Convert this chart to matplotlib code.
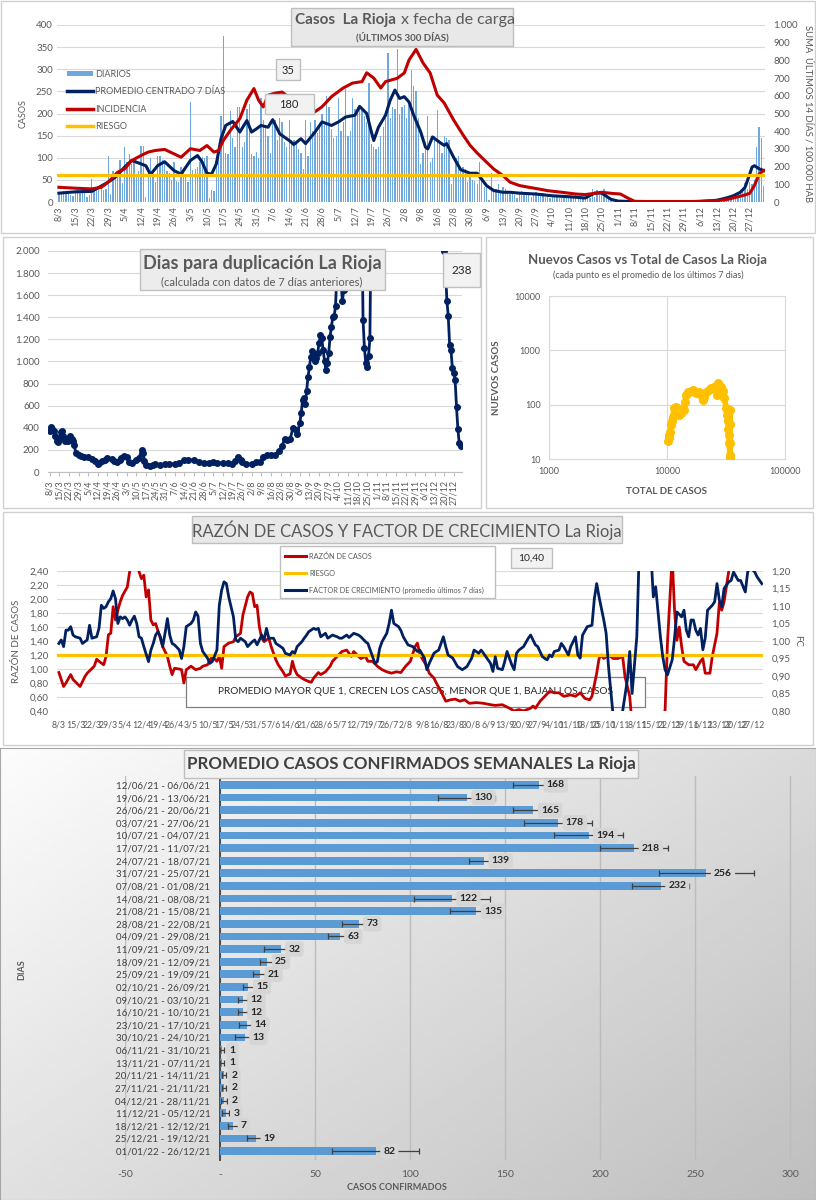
import numpy as np
import matplotlib
matplotlib.use('Agg')
import matplotlib.pyplot as plt
from matplotlib.patches import Rectangle
from matplotlib.lines import Line2D

plt.rcParams['font.family'] = ['Lato', 'DejaVu Sans']

# ------------------------------------------------------------------ DATA
fecha_labels = ['8/3', '15/3', '22/3', '29/3', '5/4', '12/4', '19/4', '26/4', '3/5', '10/5',
                '17/5', '24/5', '31/5', '7/6', '14/6', '21/6', '28/6', '5/7', '12/7', '19/7',
                '26/7', '2/8', '9/8', '16/8', '23/8', '30/8', '6/9', '13/9', '20/9', '27/9',
                '4/10', '11/10', '18/10', '25/10', '1/11', '8/11', '15/11', '22/11', '29/11',
                '6/12', '13/12', '20/12', '27/12']
fecha_dias = [7 * i for i in range(len(fecha_labels))]   # days since 8/3

# daily cases, 8/3 .. 2/1 (one row per week)
diarios = [
    18, 22, 25, 20, 24, 15, 14,
    24, 30, 22, 28, 26, 12, 15,
    51, 25, 30, 32, 38, 28, 30,
    105, 18, 70, 68, 62, 95, 42,
    125, 90, 108, 85, 95, 60, 70,
    127, 127, 12, 80, 100, 62, 46,
    105, 105, 95, 88, 70, 65, 50,
    90, 48, 45, 80, 65, 60, 45,
    226, 72, 75, 78, 90, 102, 100,
    105, 10, 28, 25, 90, 100, 195,
    375, 110, 108, 205, 145, 125, 215,
    215, 125, 135, 210, 222, 108, 105,
    113, 100, 235, 185, 175, 150, 110,
    190, 185, 140, 190, 180, 135, 125,
    185, 140, 140, 130, 120, 110, 75,
    185, 105, 180, 160, 185, 155, 170,
    200, 175, 240, 215, 165, 145, 150,
    235, 160, 180, 255, 150, 160, 235,
    210, 215, 220, 210, 195, 180, 268,
    130, 125, 120, 125, 150, 170, 190,
    337, 190, 215, 210, 346, 200, 215,
    220, 190, 220, 298, 262, 250, 190,
    85, 110, 120, 195, 90, 100, 150,
    207, 140, 110, 150, 145, 140, 40,
    60, 100, 105, 70, 80, 75, 45,
    65, 50, 48, 40, 90, 55, 35,
    35, 5, 65, 25, 30, 40, 20,
    35, 30, 20, 18, 25, 15, 10,
    20, 25, 15, 22, 18, 12, 15,
    22, 18, 15, 20, 12, 18, 10,
    15, 12, 14, 10, 12, 8, 10,
    12, 8, 10, 15, 9, 7, 8,
    12, 8, 10, 30, 12, 28, 15,
    25, 30, 20, 8, 5, 3, 2,
    2, 1, 2, 1, 0, 1, 0,
    1, 0, 2, 1, 0, 0, 1,
    2, 1, 0, 3, 2, 0, 1,
    2, 1, 3, 2, 1, 0, 2,
    2, 3, 1, 2, 4, 2, 3,
    1, 2, 1, 3, 2, 4, 3,
    5, 6, 4, 8, 10, 9, 12,
    12, 15, 18, 25, 22, 43, 30,
    45, 40, 50, 124, 169, 144, 36,
]

# 7-day centred average (day, cases)
promedio7 = [(0, 20), (7, 23), (14, 24), (21, 45), (24, 56), (28, 79), (31, 94), (35, 86), (37, 82),
             (39, 62), (42, 82), (45, 91), (49, 71), (52, 63), (56, 94), (59, 105), (61, 90), (63, 65),
             (65, 63), (67, 86), (69, 143), (71, 173), (74, 182), (77, 158), (80, 184), (82, 158),
             (84, 165), (86, 173), (89, 169), (91, 186), (94, 154), (98, 139), (100, 130), (103, 143),
             (105, 132), (109, 158), (112, 181), (116, 173), (119, 181), (122, 192), (126, 196),
             (128, 216), (131, 200), (133, 158), (134, 139), (136, 169), (139, 196), (141, 230),
             (143, 253), (145, 234), (147, 238), (149, 226), (151, 196), (154, 158), (156, 124),
             (157, 120), (159, 147), (162, 135), (164, 128), (165, 132), (168, 101), (171, 73),
             (175, 65), (178, 65), (182, 37), (185, 26), (189, 22), (192, 22), (196, 20), (203, 18),
             (210, 14), (217, 12), (224, 9), (228, 20), (231, 20), (235, 6), (238, 2), (245, 1),
             (252, 1), (259, 1), (266, 1), (273, 1), (280, 4), (284, 9), (287, 14), (290, 22),
             (292, 33), (294, 63), (295, 79), (296, 82), (298, 75), (300, 71)]

# 14-day incidence per 100.000 (day, value)
incidencia = [(0, 83), (7, 78), (14, 74), (18, 83), (21, 112), (25, 168), (28, 187), (31, 234),
              (35, 263), (38, 282), (41, 291), (45, 297), (49, 272), (52, 253), (56, 301), (60, 291),
              (63, 319), (66, 282), (68, 291), (70, 348), (73, 405), (77, 471), (80, 575), (83, 641),
              (85, 575), (87, 537), (89, 603), (92, 615), (95, 621), (100, 570), (105, 520), (109, 510),
              (112, 538), (116, 595), (121, 644), (125, 672), (129, 680), (131, 730), (134, 700),
              (137, 644), (139, 680), (144, 699), (147, 729), (149, 802), (152, 862), (155, 785),
              (158, 729), (161, 604), (164, 559), (168, 463), (172, 379), (175, 320), (178, 277),
              (182, 225), (185, 187), (189, 149), (192, 112), (196, 93), (200, 83), (204, 74), (208, 64),
              (214, 55), (220, 45), (224, 42), (228, 49), (231, 55), (235, 49), (239, 45), (242, 23),
              (245, 4), (250, 3), (260, 3), (270, 3), (280, 8), (284, 13), (287, 23), (291, 36),
              (294, 49), (296, 93), (298, 159), (300, 178)]
riesgo_incidencia = 150

# days to double (day, days)
nan = float('nan')
duplicacion = [(0, 373), (1, 403), (2, 390), (3, 367), (4, 322), (5, 277), (6, 270), (7, 300), (8, 361),
               (9, 367), (10, 322), (11, 283), (13, 283), (14, 307), (15, 322), (16, 300), (17, 277),
               (18, 241), (19, 171), (21, 156), (23, 141), (25, 135), (28, 132), (31, 120), (33, 96),
               (35, 72), (36, 84), (38, 96), (40, 112), (42, 126), (45, 120), (47, 100), (49, 90),
               (51, 112), (52, 126), (54, 141), (56, 132), (58, 90), (60, 81), (63, 111), (65, 126),
               (67, 201), (68, 171), (69, 96), (70, 60), (73, 51), (75, 60), (77, 72), (80, 60), (84, 72),
               (87, 75), (91, 72), (94, 81), (98, 105), (101, 108), (105, 111), (109, 87), (112, 81),
               (116, 85), (119, 87), (122, 84), (126, 81), (130, 78), (133, 72), (135, 100), (137, 132),
               (139, 110), (140, 87), (143, 72), (147, 72), (150, 90), (153, 87), (155, 132), (158, 150),
               (161, 150), (164, 156), (167, 186), (169, 232), (171, 300), (173, 292), (175, 300),
               (177, 397), (179, 382), (180, 343), (182, 442), (183, 532), (184, 653), (185, 674),
               (186, 614), (187, 734), (188, 863), (189, 950), (190, 1044), (191, 1095), (192, 1060),
               (193, 1005), (194, 1029), (195, 1080), (196, 1164), (197, 1239), (198, 1209), (199, 1100),
               (200, 1005), (201, 923), (202, 983), (203, 1074), (204, 1224), (205, 1314), (206, 1404),
               (207, 1410), (208, 1504), (209, 1800), (210, 2300), (211, 2100), (212, 1700), (213, 1550),
               (214, 1650), (215, 2400), (216, nan), (227, 2500), (228, 1380), (229, 1120), (230, 990),
               (231, 950), (232, 1050), (233, 1210), (234, 2500), (235, nan), (286, 2600), (287, 2000),
               (288, 1830), (289, 1550), (290, 1410), (291, 1150), (292, 1100), (293, 940), (294, 900),
               (295, 830), (296, 590), (297, 390), (298, 260), (299, 238)]

# new cases (7-day mean) vs total cases
total_casos = [10130, 10300, 10460, 10600, 10810, 11000, 11170, 11540, 11920, 12300, 12720, 13100,
               13580, 14000, 14200, 14500, 15000, 15480, 16000, 16500, 17000, 17620, 18200, 18800,
               19400, 20070, 20700, 21400, 22500, 23600, 24400, 25200, 25800, 26400, 26900, 27800,
               28700, 29700, 30700, 31700, 32300, 32800, 33200, 33500, 33800, 34000, 34100, 34200,
               34300, 34400]
nuevos_casos = [21, 24, 28, 32, 42, 50, 60, 86, 92, 75, 64, 70,
                86, 80, 110, 150, 170, 173, 180, 186, 175, 161, 165, 173,
                150, 122, 140, 173, 185, 200, 205, 214, 200, 150, 247, 235,
                214, 180, 131, 86, 65, 49, 35, 28, 20, 12, 10.3, 20,
                45, 80]

# ratio of cases (day, value, left axis)
razon = [(0, 0.95), (2, 0.75), (3, 0.80), (5, 0.92), (6, 0.85), (9, 0.75), (11, 0.89), (12, 0.94),
         (15, 1.04), (16, 1.14), (17, 1.11), (19, 1.06), (20, 1.18), (21, 1.49), (22, 1.51), (23, 1.89),
         (24, 1.70), (25, 1.84), (26, 1.96), (27, 2.05), (29, 2.17), (30, 2.39), (31, 2.70), (32, 2.90),
         (33, 2.70), (34, 2.39), (35, 2.29), (36, 2.34), (37, 2.03), (38, 2.13), (39, 1.70), (40, 1.63),
         (41, 1.65), (43, 1.44), (44, 1.32), (46, 1.18), (47, 1.04), (48, 0.92), (49, 1.01), (51, 1.00),
         (52, 0.99), (53, 0.80), (54, 0.99), (56, 1.04), (58, 0.99), (60, 1.01), (61, 1.04), (63, 1.06),
         (65, 1.18), (67, 1.11), (68, 1.18), (69, 1.01), (70, 1.32), (72, 1.37), (74, 1.39), (75, 1.46),
         (77, 1.51), (78, 1.77), (80, 2.03), (81, 2.10), (82, 2.08), (83, 1.89), (84, 1.91), (85, 1.60),
         (86, 1.44), (87, 1.39), (89, 1.44), (90, 1.32), (92, 1.13), (93, 1.06), (95, 0.96), (96, 0.90),
         (98, 0.93), (99, 1.11), (100, 0.99), (101, 0.92), (103, 0.87), (104, 0.85), (106, 0.82),
         (107, 0.81), (108, 0.87), (110, 0.95), (111, 0.92), (113, 0.96), (115, 1.04), (116, 1.11),
         (118, 1.18), (120, 1.25), (122, 1.27), (124, 1.18), (125, 1.25), (127, 1.18), (128, 1.15),
         (130, 1.18), (131, 1.11), (133, 1.11), (135, 1.04), (137, 0.99), (139, 0.96), (141, 0.94),
         (143, 0.96), (145, 0.95), (147, 1.04), (149, 1.11), (151, 1.32), (152, 1.37), (153, 1.22),
         (154, 1.15), (156, 1.04), (157, 0.94), (159, 0.87), (160, 0.80), (162, 0.68), (164, 0.54),
         (166, 0.56), (168, 0.57), (170, 0.54), (172, 0.56), (174, 0.51), (177, 0.52), (180, 0.51),
         (183, 0.49), (185, 0.48), (188, 0.49), (191, 0.44), (193, 0.40), (195, 0.42), (197, 0.40),
         (200, 0.44), (201, 0.47), (202, 0.44), (204, 0.54), (206, 0.61), (208, 0.68), (210, 0.66),
         (212, 0.66), (214, 0.61), (217, 0.63), (219, 0.61), (221, 0.66), (223, 0.58), (225, 0.56),
         (226, 0.61), (228, 0.94), (229, 1.15), (230, 1.20), (231, 1.15), (233, 1.20), (235, 1.15),
         (237, 1.15), (239, 1.18), (240, 0.89), (242, 0.61), (243, 0.20), (250, 0.20), (256, 0.20),
         (257, 0.42), (258, 1.37), (260, 2.60), (261, 1.84), (262, 1.41), (263, 1.60), (264, 1.32),
         (265, 1.11), (267, 1.06), (269, 1.06), (270, 0.99), (272, 1.11), (273, 1.15), (274, 0.94),
         (276, 0.94), (277, 1.18), (279, 1.51), (280, 1.95), (281, 1.84), (282, 1.96), (284, 2.40),
         (285, 2.60), (300, 2.60)]
riesgo_razon = 1.20

# growth factor, 7-day mean (day, value, right axis)
factor = [(0, 0.993), (1, 1.003), (2, 0.984), (3, 1.031), (4, 1.031), (5, 1.041), (6, 1.017), (7, 1.012),
          (9, 1.008), (10, 0.993), (11, 0.998), (12, 1.003), (13, 1.045), (14, 1.008), (16, 1.012),
          (17, 1.036), (18, 1.102), (19, 1.093), (20, 1.098), (21, 1.112), (22, 1.121), (23, 1.143),
          (24, 1.121), (25, 1.050), (26, 1.069), (27, 1.064), (28, 1.069), (29, 1.060), (30, 1.045),
          (31, 1.060), (32, 1.071), (33, 1.050), (34, 1.012), (35, 1.008), (36, 0.984), (38, 0.941),
          (39, 0.974), (40, 0.993), (41, 1.017), (42, 1.027), (43, 1.012), (44, 0.984), (45, 1.022),
          (46, 1.064), (47, 1.017), (48, 0.993), (49, 0.989), (51, 0.975), (52, 0.950), (53, 0.984),
          (54, 1.041), (56, 1.050), (57, 1.060), (58, 1.083), (59, 1.071), (60, 0.993), (61, 0.970),
          (63, 0.951), (64, 0.936), (65, 0.941), (67, 0.974), (68, 1.102), (69, 1.145), (70, 1.169),
          (71, 1.164), (72, 1.126), (74, 1.069), (75, 1.003), (76, 0.998), (77, 1.008), (79, 0.998),
          (80, 0.984), (82, 0.998), (83, 1.003), (84, 0.989), (85, 1.003), (86, 1.017), (87, 1.003),
          (88, 1.036), (89, 1.008), (91, 1.008), (92, 0.993), (94, 0.984), (95, 0.979), (96, 0.965),
          (98, 0.960), (99, 0.970), (100, 0.965), (101, 0.984), (103, 0.998), (104, 1.008), (105, 1.017),
          (106, 1.027), (108, 1.036), (109, 1.033), (110, 1.036), (111, 1.012), (113, 1.022), (114, 1.008),
          (116, 1.017), (118, 1.012), (119, 1.008), (120, 1.008), (122, 1.017), (123, 1.010), (125, 1.022),
          (127, 1.017), (128, 1.012), (130, 0.998), (131, 0.993), (132, 0.974), (134, 0.936), (135, 0.941),
          (136, 0.979), (137, 0.998), (139, 1.022), (140, 1.050), (141, 1.088), (142, 1.050), (144, 1.041),
          (145, 1.030), (146, 1.012), (148, 0.989), (150, 0.984), (152, 0.970), (153, 0.974), (155, 0.951),
          (156, 0.918), (157, 0.936), (159, 0.965), (160, 0.970), (161, 0.974), (163, 1.012), (164, 0.984),
          (165, 0.960), (167, 0.951), (169, 0.927), (171, 0.918), (173, 0.927), (175, 0.951), (176, 0.974),
          (178, 0.965), (179, 0.974), (180, 0.965), (183, 0.936), (184, 0.913), (185, 0.955), (186, 0.922),
          (188, 0.918), (189, 0.941), (190, 0.970), (192, 0.932), (193, 0.918), (194, 0.965), (195, 0.974),
          (197, 0.984), (199, 1.008), (200, 1.017), (202, 0.989), (203, 0.984), (205, 0.955), (207, 0.946),
          (208, 0.960), (209, 0.955), (210, 0.970), (212, 0.974), (213, 0.993), (214, 0.984), (216, 0.960),
          (217, 0.984), (219, 1.012), (220, 0.960), (221, 0.951), (222, 1.017), (224, 1.041), (226, 1.045),
          (227, 1.121), (228, 1.164), (229, 1.126), (231, 1.060), (232, 1.022), (233, 0.927), (235, 0.785),
          (236, 0.70), (238, 0.70), (239, 0.80), (241, 0.889), (242, 0.970), (243, 0.850), (245, 1.012),
          (246, 1.25), (250, 1.30), (251, 1.25), (252, 1.126), (253, 1.155), (255, 1.012), (256, 0.955),
          (257, 0.918), (258, 0.903), (260, 0.946), (261, 1.008), (262, 1.083), (264, 1.069), (265, 1.088),
          (266, 1.031), (267, 1.012), (268, 1.060), (269, 1.060), (270, 1.031), (271, 1.017), (272, 1.036),
          (273, 0.975), (274, 1.008), (275, 1.088), (277, 1.102), (278, 1.112), (279, 1.164), (280, 1.117),
          (281, 1.098), (282, 1.150), (284, 1.169), (285, 1.173), (286, 1.197), (288, 1.173), (289, 1.173),
          (291, 1.140), (292, 1.197), (293, 1.21), (295, 1.197), (296, 1.183), (298, 1.164)]

# weekly average confirmed cases
semanas = ['12/06/21 - 06/06/21', '19/06/21 - 13/06/21', '26/06/21 - 20/06/21', '03/07/21 - 27/06/21',
           '10/07/21 - 04/07/21', '17/07/21 - 11/07/21', '24/07/21 - 18/07/21', '31/07/21 - 25/07/21',
           '07/08/21 - 01/08/21', '14/08/21 - 08/08/21', '21/08/21 - 15/08/21', '28/08/21 - 22/08/21',
           '04/09/21 - 29/08/21', '11/09/21 - 05/09/21', '18/09/21 - 12/09/21', '25/09/21 - 19/09/21',
           '02/10/21 - 26/09/21', '09/10/21 - 03/10/21', '16/10/21 - 10/10/21', '23/10/21 - 17/10/21',
           '30/10/21 - 24/10/21', '06/11/21 - 31/10/21', '13/11/21 - 07/11/21', '20/11/21 - 14/11/21',
           '27/11/21 - 21/11/21', '04/12/21 - 28/11/21', '11/12/21 - 05/12/21', '18/12/21 - 12/12/21',
           '25/12/21 - 19/12/21', '01/01/22 - 26/12/21']
promedio_semanal = [168, 130, 165, 178, 194, 218, 139, 256, 232, 122, 135, 73, 63, 32, 25, 21, 15, 12, 12,
                    14, 13, 1, 1, 2, 2, 2, 3, 7, 19, 82]
error_semanal = [14, 15, 11, 18, 18, 18, 8, 25, 15, 20, 14, 9, 6, 9, 4, 3.5, 3, 2.5, 2.5, 4, 5, 1, 1,
                 1.2, 1, 1.5, 2, 3, 5, 23]

# ------------------------------------------------------------------ STYLE
W, H = 816, 1200
GRAY = '#595959'
DARK = '#404040'
NAVY = '#002060'
RED = '#C00000'
YEL = '#FFC000'
BLUE = '#5B9BD5'
GRID = '#d9d9d9'

fig = plt.figure(figsize=(W / 100, H / 100), dpi=100)
fig.patch.set_facecolor('white')
renderer = fig.canvas.get_renderer()


def fr(x0, y0, x1, y1):
    return [x0 / W, 1 - y1 / H, (x1 - x0) / W, (y1 - y0) / H]


def rect(x0, y0, x1, y1, fc='none', ec='#d9d9d9', lw=1.0, z=0.2, ax=None):
    r = Rectangle((x0 / W, 1 - y1 / H), (x1 - x0) / W, (y1 - y0) / H, transform=fig.transFigure,
                  fc=fc, ec=ec, lw=lw, zorder=z)
    if ax is None:
        fig.add_artist(r)
    else:
        ax.add_patch(r)
    return r


def ftext(x, y, s, **kw):
    kw.setdefault('ha', 'center')
    kw.setdefault('va', 'center')
    kw.setdefault('zorder', 6)
    return fig.text(x / W, 1 - y / H, s, **kw)


def miles(v):
    return f'{int(v):,}'.replace(',', '.')


def coma(v):
    return f'{v:.2f}'.replace('.', ',')


def unzip(pairs):
    a = np.array(pairs, dtype=float)
    return a[:, 0], a[:, 1]


# panel frames
rect(1, 1, 815, 233, ec='#d0d0d0')
rect(3, 237, 481, 508, ec='#d0d0d0')
rect(486, 237, 813, 508, ec='#d0d0d0')
rect(3, 512, 813, 745, ec='#d0d0d0')

# ================================================================ PANEL 1
ax1 = fig.add_axes(fr(57, 25, 765, 202))
dias = np.arange(len(diarios))
ax1.bar(dias, diarios, width=0.55, color='#6FA8DC', zorder=2)
pd_, pv_ = unzip(promedio7)
ax1.plot(pd_, pv_, color=NAVY, lw=2.2, zorder=3)
ax1.set_xlim(-0.8, 300.5)
ax1.set_ylim(0, 400)
ax1.set_yticks(range(0, 401, 50))
ax1.grid(axis='y', color=GRID, lw=0.8)
ax1.set_axisbelow(True)
ax1.set_xticks(fecha_dias)
ax1.set_xticklabels(fecha_labels, rotation=90)
ax1.tick_params(axis='both', length=0, pad=3, labelsize=7, labelcolor=GRAY)
ax1.tick_params(axis='x', labelsize=6.5)
for s in ax1.spines.values():
    s.set_visible(False)
ax1.set_ylabel('CASOS', fontsize=6.5, color=GRAY, labelpad=6)

ax1r = ax1.twinx()
idd, idv = unzip(incidencia)
ax1r.plot(idd, idv, color=RED, lw=2.2, zorder=3)
ax1r.axhline(riesgo_incidencia, color=YEL, lw=2.3, zorder=4)
ax1r.set_ylim(0, 1000)
ax1r.set_yticks(range(0, 1001, 100))
ax1r.set_yticklabels([miles(v) for v in range(0, 1001, 100)])
ax1r.tick_params(axis='y', length=0, pad=6, labelsize=7, labelcolor=GRAY)
for s in ax1r.spines.values():
    s.set_visible(False)
ax1r.set_ylabel('SUMA  ÚLTIMOS 14 DÍAS / 100.000 HAB', rotation=270, fontsize=6.8, color=GRAY,
                labelpad=11)

h1 = [Rectangle((0, 0), 1, 1, fc='#6FA8DC', ec='none'),
      Line2D([], [], color=NAVY, lw=2.5),
      Line2D([], [], color=RED, lw=2.5),
      Line2D([], [], color=YEL, lw=2.5)]
leg = ax1r.legend(h1, ['DIARIOS', 'PROMEDIO CENTRADO 7 DÍAS', 'INCIDENCIA', 'RIESGO'],
                  loc='upper left', bbox_to_anchor=(62 / W, 1 - 65 / H), bbox_transform=fig.transFigure,
                  frameon=False, fontsize=6.5, labelspacing=0.95, handlelength=2.9, handleheight=0.45,
                  handletextpad=0.3, borderpad=0)
for t in leg.get_texts():
    t.set_color(GRAY)

rect(291, 8, 513, 46, fc='#e8e8e8', ec='#bfbfbf', z=5)
t_b = ftext(295, 20, 'Casos  La Rioja', fontsize=11, fontweight='bold', color=GRAY, ha='left')
bb = t_b.get_window_extent(renderer=renderer)
ftext(bb.x1 + 5, 20, 'x fecha de carga', fontsize=11.5, color=GRAY, ha='left')
ftext(402, 37, '(ÚLTIMOS 300 DÍAS)', fontsize=7, fontweight='bold', color=GRAY)
rect(276, 59, 300, 80, fc='#f2f2f2', ec='#bfbfbf', z=5)
ftext(288, 70, '35', fontsize=8, color='#262626')
rect(265, 94, 314, 114, fc='#f2f2f2', ec='#bfbfbf', z=5)
ftext(289, 104, '180', fontsize=8, color='#262626')

# ================================================================ PANEL 2
ax2 = fig.add_axes(fr(48, 251, 462, 472))
dd, dv = unzip(duplicacion)
ax2.plot(dd, dv, color=NAVY, lw=2.0, marker='o', ms=4, mfc=NAVY, mec=NAVY, zorder=3)
ax2.set_xlim(-1.2, 300)
ax2.set_ylim(0, 2000)
ax2.set_yticks(range(0, 2001, 200))
ax2.set_yticklabels([miles(v) for v in range(0, 2001, 200)])
ax2.set_xticks(fecha_dias)
ax2.set_xticklabels(fecha_labels, rotation=90)
ax2.tick_params(axis='both', length=0, labelcolor=GRAY)
ax2.tick_params(axis='y', labelsize=7, pad=6)
ax2.tick_params(axis='x', labelsize=6.5, pad=3)
ax2.grid(axis='y', color=GRID, lw=0.8)
ax2.set_axisbelow(True)
for k, s in ax2.spines.items():
    s.set_visible(k == 'bottom')
ax2.spines['bottom'].set_color('#bfbfbf')
ax2.tick_params(axis='x', length=3, color='#bfbfbf', direction='out')

rect(140, 249, 385, 290, fc='#ececec', ec='#bfbfbf', z=5)
ftext(262, 264, 'Dias para duplicación La Rioja', fontsize=13, fontweight='bold', color=GRAY)
ftext(262, 282, '(calculada con datos de 7 días anteriores)', fontsize=8, color=GRAY)
rect(443, 253, 480, 287, fc='#f2f2f2', ec='#bfbfbf', z=5)
ftext(462, 270, '238', fontsize=8.5, color='#262626')

# ================================================================ PANEL 3
ax3 = fig.add_axes(fr(549, 296, 785, 459))
ax3.set_xscale('log')
ax3.set_yscale('log')
ax3.plot(total_casos, nuevos_casos, color=YEL, lw=4, marker='o', ms=5.5, mfc=YEL, mec=YEL,
         solid_joinstyle='round', zorder=3)
ax3.set_xlim(1000, 100000)
ax3.set_ylim(10, 10000)
ax3.set_xticks([1000, 10000, 100000])
ax3.set_xticklabels(['1000', '10000', '100000'])
ax3.set_yticks([10, 100, 1000, 10000])
ax3.set_yticklabels(['10', '100', '1000', '10000'])
ax3.minorticks_off()
ax3.grid(True, which='major', color=GRID, lw=0.8)
ax3.tick_params(axis='both', length=0, labelsize=6.5, labelcolor=GRAY, pad=6)
for s in ax3.spines.values():
    s.set_color(GRID)
ax3.set_xlabel('TOTAL DE CASOS', fontsize=7, fontweight='bold', color=GRAY, labelpad=8)
ax3.set_ylabel('NUEVOS CASOS', fontsize=7, fontweight='bold', color=GRAY, labelpad=10)
ftext(648, 260, 'Nuevos Casos vs Total de Casos La Rioja', fontsize=9.5, fontweight='bold', color=GRAY)
ftext(648, 275, '(cada punto es el promedio de los últimos 7 dias)', fontsize=6.5, color=GRAY)

# ================================================================ PANEL 4
ax4 = fig.add_axes(fr(57, 571, 763, 711))
rd, rv = unzip(razon)
ax4.plot(rd, rv, color=RED, lw=2.0, zorder=3)
ax4.axhline(riesgo_razon, color=YEL, lw=2.3, zorder=4)
ax4.set_xlim(-0.8, 298.5)
ax4.set_ylim(0.4, 2.4)
lt = [0.4 + 0.2 * i for i in range(11)]
ax4.set_yticks(lt)
ax4.set_yticklabels([coma(v) for v in lt])
ax4.set_xticks(fecha_dias)
ax4.set_xticklabels(fecha_labels, rotation=0)
ax4.tick_params(axis='both', length=0, labelcolor=GRAY)
ax4.tick_params(axis='y', labelsize=7, pad=6)
ax4.tick_params(axis='x', labelsize=6.3, pad=7)
ax4.grid(axis='y', color=GRID, lw=0.8)
ax4.set_axisbelow(True)
for s in ax4.spines.values():
    s.set_visible(False)
ax4.set_ylabel('RAZÓN DE CASOS', fontsize=7, color=GRAY, labelpad=6)
rect(186, 677, 645, 707, fc='white', ec='#7f7f7f', lw=0.9, z=1.8, ax=ax4)
ax4.text(415 / W, 1 - 692 / H, 'PROMEDIO MAYOR QUE 1, CRECEN LOS CASOS, MENOR QUE 1, BAJAN LOS CASOS',
         transform=fig.transFigure, fontsize=7.3, color='#262626', ha='center', va='center', zorder=1.9)

ax4r = ax4.twinx()
fd, fv = unzip(factor)
ax4r.plot(fd, fv, color=NAVY, lw=2.0, zorder=3)
ax4r.set_ylim(0.8, 1.2)
rt = [0.8 + 0.05 * i for i in range(9)]
ax4r.set_yticks(rt)
ax4r.set_yticklabels([coma(v) for v in rt])
ax4r.tick_params(axis='y', length=0, labelsize=7, labelcolor=GRAY, pad=6)
for s in ax4r.spines.values():
    s.set_visible(False)
ax4r.set_ylabel('FC', rotation=270, fontsize=7, color=GRAY, labelpad=8)

rect(192, 516, 622, 543, fc='#e8e8e8', ec='#bfbfbf', z=5)
ftext(407, 530, 'RAZÓN DE CASOS Y FACTOR DE CRECIMIENTO La Rioja', fontsize=12, color=GRAY)
rect(280, 546, 495, 598, fc='white', ec='#bfbfbf', z=5)
for yv, col, lab in [(556, RED, 'RAZÓN DE CASOS'), (573, YEL, 'RIESGO'),
                     (590, NAVY, 'FACTOR DE CRECIMIENTO (promedio últimos 7 días)')]:
    fig.add_artist(Line2D([285 / W, 306 / W], [1 - yv / H, 1 - yv / H], color=col, lw=2.2,
                          transform=fig.transFigure, zorder=6))
    ftext(309, yv, lab, fontsize=5.3, color=GRAY, ha='left')
rect(511, 548, 552, 568, fc='#f2f2f2', ec='#bfbfbf', z=5)
ftext(531, 558, '10,40', fontsize=7.5, color='#262626')

# ================================================================ PANEL 5
bg = fig.add_axes(fr(0, 748, 816, 1200))
gx, gy = np.meshgrid(np.linspace(0, 1, 200), np.linspace(0, 1, 200))
grad = 252 - 62 * (0.55 * gx + 0.45 * gy)
bg.imshow(grad, cmap='gray', vmin=0, vmax=255, aspect='auto', extent=[0, 1, 0, 1], origin='upper',
          interpolation='bilinear')
bg.set_xticks([])
bg.set_yticks([])
for s in bg.spines.values():
    s.set_color('#a6a6a6')
bg.set_zorder(-1)

ax5 = fig.add_axes(fr(125, 776, 793, 1160))
ax5.patch.set_alpha(0)
for k, s in ax5.spines.items():
    s.set_visible(k == 'left')
ax5.spines['left'].set_position(('data', 0))
ax5.spines['left'].set_color(DARK)
ax5.spines['left'].set_linewidth(1.3)
n = len(semanas)
yy = np.arange(n)
ax5.barh(yy, promedio_semanal, height=0.62, color=BLUE, xerr=error_semanal,
         error_kw=dict(ecolor='#404040', elinewidth=0.9, capsize=2.3, capthick=0.9), zorder=3)
ax5.set_xlim(-50, 301.6)
ax5.set_yticks(yy)
ax5.set_yticklabels(semanas)
ax5.set_ylim(n - 1 + 0.71, -0.71)
xt = list(range(-50, 301, 50))
ax5.set_xticks(xt)
ax5.set_xticklabels(['-' if v == 0 else str(v) for v in xt])
ax5.tick_params(axis='both', length=0)
ax5.tick_params(axis='y', pad=7, labelsize=7.0, labelcolor=DARK)
ax5.tick_params(axis='x', pad=7, labelsize=7.5, labelcolor=GRAY)
ax5.grid(axis='x', color='#bcbcbc', lw=1.0, zorder=0)
ax5.set_axisbelow(True)
for i, v in enumerate(promedio_semanal):
    ax5.text(v + 4, i, str(v), ha='left', va='center', fontsize=7.5, fontweight='bold', color='#262626',
             bbox=dict(boxstyle='round,pad=0.3', fc='#d6d6d6', ec='none'), zorder=6)

rect(184, 750, 638, 778, fc='#f2f2f2', ec='#bfbfbf', z=5)
ftext(411, 764, 'PROMEDIO CASOS CONFIRMADOS SEMANALES La Rioja', fontsize=12.2, fontweight='bold',
      color=DARK)
ftext(397, 1187, 'CASOS CONFIRMADOS', fontsize=6.5, fontweight='bold', color=GRAY)
ftext(22, 970, 'DIAS', fontsize=6.5, fontweight='bold', color=GRAY, rotation=90)

fig.savefig('out.png', dpi=100)
